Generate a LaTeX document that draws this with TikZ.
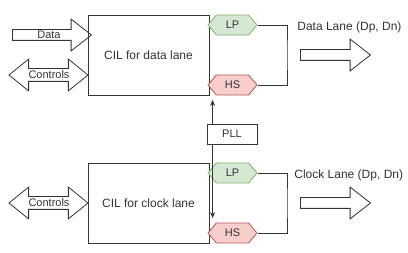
\documentclass[tikz,border=0pt]{standalone}
\usepackage{fontspec}
\setmainfont{Liberation Sans}
\usetikzlibrary{shapes.arrows,shapes.symbols,arrows.meta}
\definecolor{lpfill}{HTML}{D5E8D4}
\definecolor{lpline}{HTML}{82B366}
\definecolor{hsfill}{HTML}{F8CECC}
\definecolor{hsline}{HTML}{B85450}

\begin{document}
\begin{tikzpicture}[x=1pt,y=-1pt,color=black!80,line width=0.8pt,
  cil/.style={draw,minimum width=121pt,minimum height=80pt,inner sep=0pt,font=\fontsize{12}{14}\selectfont},
  hexa/.style={draw,signal,signal to=west and east,signal pointer angle=100,minimum width=49pt,minimum height=20pt,inner sep=0pt,font=\fontsize{11}{13}\selectfont},
  lp/.style={hexa,fill=lpfill,draw=lpline},
  hs/.style={hexa,fill=hsfill,draw=hsline},
  fat/.style={draw,single arrow,inner sep=5pt,single arrow head extend=10.5pt,single arrow tip angle=76},
  both/.style={draw,double arrow,inner sep=6pt,double arrow head extend=9.5pt,double arrow tip angle=78,minimum height=79pt},
  lbl/.style={fill=white,inner sep=0.5pt,font=\fontsize{11}{13}\selectfont},
  txt/.style={anchor=west,inner sep=0pt,font=\fontsize{12}{14}\selectfont},
  link/.style={-{Stealth[length=6pt,width=5pt]}}]
\path[use as bounding box] (0,0) rectangle (408,253);

\node[cil] (cild) at (148.5,55) {CIL for data lane};
\node[cil] (cilc) at (148.5,203) {CIL for clock lane};

\node[fat,minimum height=79pt] (datain) at (48.5,35) {};
\node[lbl] at (49,35) {Data};
\node[both] (ctrld) at (48.5,75) {};
\node[lbl] at (49,75) {Controls};
\node[both] (ctrlc) at (48.5,203) {};
\node[lbl] at (49,203) {Controls};

\node[lp] (lpd) at (232.5,25) {LP};
\node[hs] (hsd) at (232.5,85) {HS};
\node[lp] (lpc) at (232.5,173) {LP};
\node[hs] (hsc) at (232.5,233) {HS};
\node[draw,minimum width=50pt,minimum height=20pt,inner sep=0pt,font=\fontsize{11}{13}\selectfont] (pll) at (232,134) {PLL};

\coordinate (rd) at (287,55);
\coordinate (rc) at (287,203);
\draw (lpd.east) -| (rd) |- (hsd.east);
\draw (lpc.east) -| (rc) |- (hsc.east);

\draw[link,shorten >=4.5pt] ([xshift=6pt]pll.north west) -- ([xshift=6pt]pll.north west |- hsd.south);
\draw[link,shorten >=4.5pt] ([xshift=6pt]pll.south west) -- ([xshift=6pt]pll.south west |- hsc.north);

\node[txt] (dlane) at (297,27) {Data Lane (Dp, Dn)};
\node[fat,minimum height=70pt] (dout) at (332,55) {};
\node[txt] (clane) at (294,175) {Clock Lane (Dp, Dn)};
\node[fat,minimum height=70pt] (cout) at (332,203) {};
\end{tikzpicture}
\end{document}
